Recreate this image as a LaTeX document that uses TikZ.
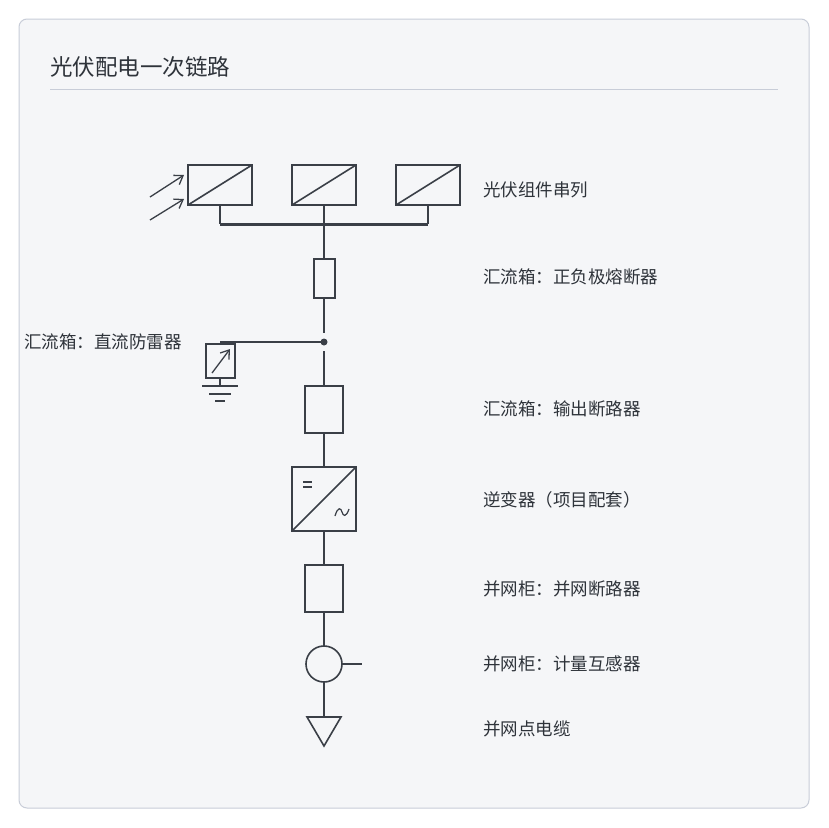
\documentclass[tikz,border=0pt]{standalone}
\usepackage{fontspec}
\setmainfont{Noto Sans CJK SC}
\usetikzlibrary{arrows.meta}
\begin{document}
\begin{tikzpicture}[x=1pt,y=-1pt,
  ln/.style={draw=lc,line width=1.6pt},
  box/.style={draw=lc,line width=1.6pt,fill=bg},
  ar/.style={draw=lc,line width=1.3pt,-{Straight Barb[length=8pt,width=11pt]}},
  lab/.style={anchor=west,text=tc,font=\fontsize{17.5}{19}\selectfont,inner sep=0}]
\definecolor{lc}{HTML}{3A3F47}\definecolor{tc}{HTML}{2E333A}
\definecolor{bg}{HTML}{F5F6F8}\definecolor{fr}{HTML}{C8CDD8}
\useasboundingbox (0,0) rectangle (828,828);
\fill[white] (0,0) rectangle (828,828);
\draw[fr,fill=bg,rounded corners=8pt,line width=1pt] (19,19) rectangle (809,808);
\node[lab,font=\fontsize{22.5}{24}\selectfont] (title) at (50,67) {光伏配电一次链路};
\draw[fr,line width=0.8pt] (50,89) -- (778,89);
% panels
\foreach \x/\n in {188/p1,292/p2,396/p3}{
  \draw[box] (\x,165) rectangle ++(64,40);
  \draw[ln] (\x,205) -- ++(64,-40);
  \draw[ln] (\x+32,205) -- (\x+32,224);
}
\draw[lc,line width=3pt] (220,224) -- (428,224);
\draw[ar] (150,197) -- (184,175);
\draw[ar] (150,220) -- (184,199);
% fuse
\draw[ln] (324,224) -- (324,259);
\draw[box] (314,259) rectangle (335,298);
\draw[ln] (324,298) -- (324,333);
\fill[lc] (324,342) circle (3.5pt);
\draw[ln] (324,351) -- (324,386);
% SPD
\draw[ln] (324,342) -- (220,342);
\draw[box] (206,344) rectangle (235,378);
\draw[ar] (212,373) -- (230,349);
\draw[ln] (220,378) -- (220,386);
\draw[ln] (202,386) -- (238,386);
\draw[ln] (209,394) -- (231,394);
\draw[ln] (215,401) -- (225,401);
% breaker
\draw[box] (305,386) rectangle (343,433);
\draw[ln] (324,433) -- (324,467);
% inverter
\draw[box] (292,467) rectangle (356,531);
\draw[ln] (292,531) -- (356,467);
\draw[lc,line width=1.2pt] (303,482) -- (312,482) (303,487) -- (312,487);
\draw[lc,line width=1.2pt] (335,516) .. controls (338,506) and (341,508) .. (342,512)
  .. controls (343,516) and (346,518) .. (349,509);
\draw[ln] (324,531) -- (324,565);
\draw[box] (305,565) rectangle (343,612);
\draw[ln] (324,612) -- (324,646);
\draw[box] (324,664) circle (18);
\draw[ln] (342,664) -- (362,664);
\draw[ln] (324,682) -- (324,717);
\draw[box] (307,717) -- (341,717) -- (324,746) -- cycle;
% labels
\node[lab] (l1) at (483,190) {光伏组件串列};
\node[lab] (l2) at (483,277) {汇流箱：正负极熔断器};
\node[lab] (l3) at (24,342) {汇流箱：直流防雷器};
\node[lab] (l4) at (483,409) {汇流箱：输出断路器};
\node[lab] (l5) at (483,500) {逆变器（项目配套）};
\node[lab] (l6) at (483,589) {并网柜：并网断路器};
\node[lab] (l7) at (483,664) {并网柜：计量互感器};
\node[lab] (l8) at (483,729) {并网点电缆};
\end{tikzpicture}
\end{document}
